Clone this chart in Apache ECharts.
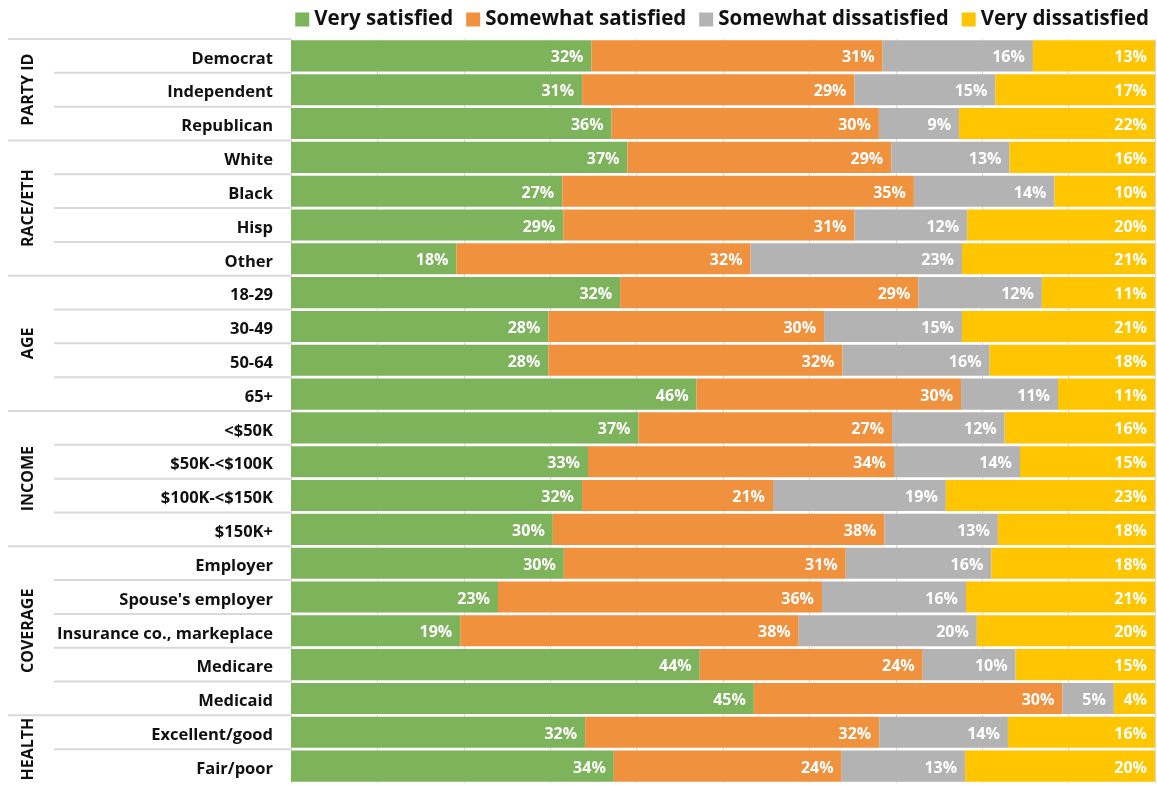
<!DOCTYPE html>
<html>
<head>
<meta charset="utf-8">
<script src="https://cdn.jsdelivr.net/npm/echarts@6/dist/echarts.min.js"></script>
<style>
html,body{margin:0;padding:0;background:#fff;}
#chart{width:1157px;height:785px;}
</style>
</head>
<body>
<div id="chart"></div>
<script>
var categories = ["Democrat","Independent","Republican","White","Black","Hisp","Other","18-29","30-49","50-64","65+","<$50K","$50K-<$100K","$100K-<$150K","$150K+","Employer","Spouse's employer","Insurance co., markeplace","Medicare","Medicaid","Excellent/good","Fair/poor"];
var groups = [
  {name:"PARTY ID", from:0, to:2},
  {name:"RACE/ETH", from:3, to:6},
  {name:"AGE", from:7, to:10},
  {name:"INCOME", from:11, to:14},
  {name:"COVERAGE", from:15, to:19},
  {name:"HEALTH", from:20, to:21}
];
var seriesNames = ["Very satisfied","Somewhat satisfied","Somewhat dissatisfied","Very dissatisfied"];
var verySatisfied =        [32,31,36,37,27,29,18,32,28,28,46,37,33,32,30,30,23,19,44,45,32,34];
var somewhatSatisfied =    [31,29,30,29,35,31,32,29,30,32,30,27,34,21,38,31,36,38,24,30,32,24];
var somewhatDissatisfied = [16,15,9,13,14,12,23,12,15,16,11,12,14,19,13,16,16,20,10,5,14,13];
var veryDissatisfied =     [13,17,22,16,10,20,21,11,21,18,11,16,15,23,18,18,21,20,15,4,16,20];

var raw = [verySatisfied, somewhatSatisfied, somewhatDissatisfied, veryDissatisfied];
var colors = ["#7db35a","#f0913e","#b3b3b3","#ffc600"];
var totals = categories.map(function(c,i){ return raw.reduce(function(s,a){return s+a[i];},0); });

var chart = echarts.init(document.getElementById('chart'));
var FONT = '"Open Sans"';

var series = raw.map(function(arr, si){
  return {
    name: seriesNames[si],
    type: 'bar',
    stack: 'total',
    barCategoryGap: '8%',
    itemStyle: {color: colors[si]},
    label: {
      show: true,
      position: 'insideRight',
      distance: 8,
      offset: [0, 2],
      color: '#fff',
      fontFamily: FONT,
      fontWeight: 'bold',
      fontSize: 16,
      formatter: function(p){ return raw[si][p.dataIndex] + '%'; }
    },
    emphasis: {disabled: true},
    data: arr.map(function(v,i){ return v / totals[i] * 100; })
  };
});

chart.setOption({
  animation: false,
  legend: {
    data: seriesNames,
    top: 4,
    right: 3,
    itemWidth: 14,
    itemHeight: 14,
    itemGap: 13,
    icon: 'rect',
    textStyle: {fontFamily: FONT, fontWeight: 'bold', fontSize: 20.5, color: '#111'}
  },
  grid: {left: 291, right: 2, top: 39, bottom: 2, containLabel: false},
  xAxis: {
    type: 'value', min: 0, max: 100, interval: 10,
    axisLabel: {show: false}, axisLine: {show: false}, axisTick: {show: false},
    splitLine: {show: true, lineStyle: {color: '#d9d9d9', width: 1}}
  },
  yAxis: {
    type: 'category', inverse: true, data: categories,
    axisLine: {show: false}, axisTick: {show: false},
    axisLabel: {
      margin: 18,
      formatter: function(v){ return '{l|' + v + '}'; },
      rich: {
        l: {fontFamily: FONT, fontWeight: 'bold', fontSize: 16.5, color: '#111', padding: [6, 0, 0, 0]}
      }
    }
  },
  series: series
});

// separator lines and group labels positioned via axis scale
var centers = categories.map(function(c){ return chart.convertToPixel({yAxisIndex:0}, c); });
var band = centers.length > 1 ? (centers[1] - centers[0]) : 34;
var gridLeft = 291;
var graphics = [];
var groupStarts = {};
groups.forEach(function(g){ groupStarts[g.from] = true; });
for (var i = 0; i < categories.length; i++) {
  var y = centers[i] - band/2;
  var isGroup = groupStarts[i];
  graphics.push({
    type: 'line',
    shape: {x1: isGroup ? 8 : 54, y1: y, x2: gridLeft, y2: y},
    style: {stroke: '#d9d9d9', lineWidth: 2},
    silent: true
  });
}
groups.forEach(function(g){
  var cy = (centers[g.from] + centers[g.to]) / 2;
  graphics.push({
    type: 'text',
    x: 28, y: cy,
    rotation: Math.PI/2,
    style: {
      text: g.name, fontFamily: FONT, fontWeight: 'bold', fontSize: 16,
      fill: '#111', align: 'center', verticalAlign: 'middle'
    },
    silent: true
  });
});
chart.setOption({graphic: graphics});
</script>
</body>
</html>
